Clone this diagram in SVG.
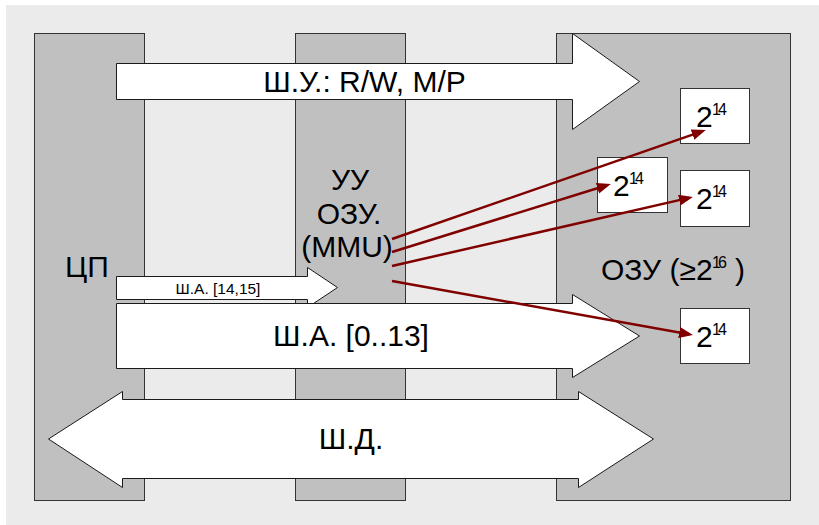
<svg xmlns="http://www.w3.org/2000/svg" width="819" height="525" viewBox="0 0 819 525">
  <defs>
    <marker id="head" markerUnits="userSpaceOnUse" markerWidth="15" markerHeight="12" refX="10" refY="5.5" orient="auto">
      <path d="M0,0 L14,5.5 L0,11 z" fill="#800000"/>
    </marker>
  </defs>
  <style>
    .block { fill: #c0c0c0; stroke: #333333; stroke-width: 1; }
    .bus { fill: #ffffff; stroke: #1a1a1a; stroke-width: 1; stroke-linejoin: miter; }
    .cell { fill: #ffffff; stroke: #333333; stroke-width: 1; }
    .t { font-family: "Liberation Sans", Arial, sans-serif; font-size: 30px; fill: #000000; }
    .mid { text-anchor: middle; }
    .sup { font-family: "Liberation Sans", Arial, sans-serif; font-size: 16px; fill: #000000; letter-spacing: -3px; }
    .small { font-family: "Liberation Sans", Arial, sans-serif; font-size: 15.5px; fill: #000000; text-anchor: middle; }
    .link { stroke: #800000; stroke-width: 2.5; fill: none; marker-end: url(#head); }
  </style>

  <!-- backdrop -->
  <rect x="6" y="5" width="813" height="520" fill="#ebebeb"/>

  <!-- processor -->
  <g id="cpu">
    <rect class="block" x="34.5" y="33.5" width="110" height="467"/>
    <text class="t mid" x="87" y="277">ЦП</text>
  </g>

  <!-- memory controller -->
  <g id="mmu">
    <rect class="block" x="295.5" y="33.5" width="110" height="467"/>
    <text class="t mid" x="350" y="190">УУ</text>
    <text class="t mid" x="349" y="224">ОЗУ.</text>
    <text class="t mid" x="347" y="257">(MMU)</text>
  </g>

  <!-- main memory -->
  <g id="ram">
    <rect class="block" x="556.5" y="33.5" width="234" height="467"/>
    <text class="t" x="601" y="280">ОЗУ (≥2</text>
    <text class="sup" x="712" y="268">16</text>
    <text class="t" x="735" y="280">)</text>
  </g>

  <!-- control bus -->
  <g id="bus-control">
    <path class="bus" d="M116.5,63.5 H572.5 V33.5 L639.5,81.5 L572.5,129.5 V99.5 H116.5 Z"/>
    <text class="t mid" x="364.5" y="92">Ш.У.: R/W, M/P</text>
  </g>

  <!-- address bus, high bits -->
  <g id="bus-addr-high">
    <path class="bus" d="M116.5,276.5 H307.5 V267.5 L337.5,287.5 L307.5,307.5 V299.5 H116.5 Z"/>
    <text class="small" x="218" y="294">Ш.А. [14,15]</text>
  </g>

  <!-- address bus, low bits -->
  <g id="bus-addr-low">
    <path class="bus" d="M116.5,303.5 H572.5 V294.5 L639.5,336 L572.5,377.5 V368.5 H116.5 Z"/>
    <text class="t mid" x="351" y="346">Ш.А. [0..13]</text>
  </g>

  <!-- data bus -->
  <g id="bus-data">
    <path class="bus" d="M48.5,439 L122.5,391.5 V399.5 H578.5 V391.5 L653.5,439 L578.5,487.5 V478.5 H122.5 V487.5 Z"/>
    <text class="t mid" x="351" y="449">Ш.Д.</text>
  </g>

  <!-- memory banks -->
  <g id="bank-1">
    <rect class="cell" x="680.5" y="88.5" width="69" height="55"/>
    <text class="t" x="696" y="127">2</text>
    <text class="sup" x="712" y="115">14</text>
  </g>
  <g id="bank-2">
    <rect class="cell" x="597.5" y="157.5" width="70" height="55"/>
    <text class="t" x="613" y="196">2</text>
    <text class="sup" x="629" y="184">14</text>
  </g>
  <g id="bank-3">
    <rect class="cell" x="680.5" y="170.5" width="69" height="56"/>
    <text class="t" x="696" y="209">2</text>
    <text class="sup" x="712" y="197">14</text>
  </g>
  <g id="bank-4">
    <rect class="cell" x="680.5" y="308.5" width="69" height="55"/>
    <text class="t" x="696" y="347">2</text>
    <text class="sup" x="712" y="335">14</text>
  </g>

  <!-- bank selection lines -->
  <g id="connectors">
    <line class="link" x1="392" y1="239" x2="702" y2="131.4"/>
    <line class="link" x1="392" y1="252" x2="607" y2="185.2"/>
    <line class="link" x1="392" y1="266" x2="689" y2="197.9"/>
    <line class="link" x1="392" y1="281" x2="689" y2="334.3"/>
  </g>
</svg>
